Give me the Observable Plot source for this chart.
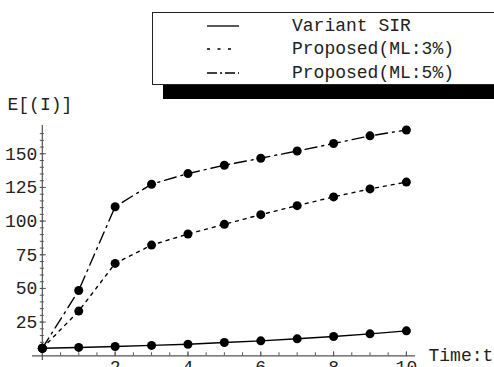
<!DOCTYPE html>
<html>
<head>
<meta charset="utf-8">
<script src="https://cdn.jsdelivr.net/npm/d3@7"></script>
<script src="https://cdn.jsdelivr.net/npm/@observablehq/plot@0.6"></script>
<style>
  html, body { margin: 0; padding: 0; background: #fff; overflow: hidden; }
  #wrap { position: relative; width: 494px; height: 367px; font-family: "Liberation Mono", monospace; }
  #legend { position: absolute; left: 152px; top: 12px; width: 360px; height: 73px; border: 1px solid #222; background: #fff; box-sizing: border-box; }
  #shadow { position: absolute; left: 163px; top: 85px; width: 340px; height: 14px; background: #000; }
  .row { position: absolute; left: 0; height: 20px; }
  .row svg { position: absolute; left: 53px; top: 0; }
  .row span { position: absolute; left: 139px; top: 0; font-size: 18px; line-height: 20px; color: #222; white-space: nowrap; }
</style>
</head>
<body>
<div id="wrap"></div>
<script>
// ---- data ----
const time = [0, 1, 2, 3, 4, 5, 6, 7, 8, 9, 10];
const variantSIR = [5.6, 6.2, 6.9, 7.7, 8.6, 9.9, 11.1, 12.6, 14.3, 16.3, 18.5];
const proposedML3 = [5.6, 33.2, 68.6, 82.2, 90.4, 97.6, 104.8, 111.5, 118.0, 123.9, 129.0];
const proposedML5 = [5.6, 48.5, 110.7, 127.4, 135.3, 141.5, 146.7, 152.1, 157.6, 163.3, 167.7];
const seriesNames = ["Variant SIR", "Proposed(ML:3%)", "Proposed(ML:5%)"];
const seriesDash = [null, "3,5", "12,5,2,5"];
const legendDash = [null, "3,7.5", "10,3,2,3"];
const xTickLabels = [2, 4, 6, 8, 10];
const yTickLabels = [25, 50, 75, 100, 125, 150];
const xMinorTicks = d3.range(0, 10.01, 0.5);
const yMinorTicks = d3.range(5, 170, 5);

const seriesValues = [variantSIR, proposedML3, proposedML5];
const rows = seriesValues.map((vals, s) => time.map((t, i) => ({t, v: vals[i], s: seriesNames[s]})));

const ink = "#222";
const axisColor = "#555";
const font = "Liberation Mono, monospace";

const marks = [
  // axes lines
  Plot.ruleY([0], {stroke: axisColor, strokeWidth: 1.2}),
  Plot.ruleX([0], {stroke: axisColor, strokeWidth: 1.2}),
  // x ticks (pointing up)
  Plot.ruleX(xMinorTicks, {y1: 0, y2: 0, insetTop: -3, stroke: axisColor}),
  Plot.ruleX(xTickLabels, {y1: 0, y2: 0, insetTop: -4, insetBottom: -1, stroke: axisColor}),
  // y ticks
  Plot.ruleY(yMinorTicks, {x1: 0, x2: 0, insetLeft: -2, insetRight: -2, stroke: axisColor}),
  Plot.ruleY(yTickLabels, {x1: 0, x2: 0, insetLeft: -2, insetRight: -4, stroke: axisColor}),
  // tick labels
  Plot.text(xTickLabels, {x: d => d, y: 0, dy: 4, lineAnchor: "top", text: d => String(d), fontSize: 18, fontFamily: font, fill: ink}),
  Plot.text(yTickLabels, {x: 0, y: d => d, dx: -5, textAnchor: "end", text: d => String(d), fontSize: 18, fontFamily: font, fill: ink}),
  // axis labels
  Plot.text(["E[(I)]"], {frameAnchor: "top-left", dx: -25, dy: -21, textAnchor: "start", lineAnchor: "middle", fontSize: 18, fontFamily: font, fill: ink}),
  Plot.text(["Time:t"], {frameAnchor: "bottom-right", dx: 13, dy: -5, textAnchor: "start", lineAnchor: "middle", fontSize: 18, fontFamily: font, fill: ink}),
];
rows.forEach((data, s) => {
  marks.push(Plot.line(data, {x: "t", y: "v", stroke: "#000", strokeWidth: 1.4, strokeDasharray: seriesDash[s]}));
});
rows.forEach((data) => {
  marks.push(Plot.dot(data, {x: "t", y: "v", r: 4.5, fill: "#000", stroke: "none"}));
});

const chart = Plot.plot({
  width: 494,
  height: 367,
  marginLeft: 32,
  marginRight: 79,
  marginTop: 125,
  marginBottom: 7,
  x: {domain: [-0.27, 10.25], axis: null},
  y: {domain: [-3.5, 171], axis: null},
  style: {background: "#fff", overflow: "visible"},
  marks
});

const wrap = document.getElementById("wrap");
wrap.appendChild(chart);

// legend
const shadow = document.createElement("div");
shadow.id = "shadow";
wrap.appendChild(shadow);
const legend = document.createElement("div");
legend.id = "legend";
const rowTops = [3, 26, 50];
seriesNames.forEach((name, s) => {
  const row = document.createElement("div");
  row.className = "row";
  row.style.top = rowTops[s] + "px";
  const dash = legendDash[s] ? ` stroke-dasharray="${legendDash[s]}"` : "";
  const x2 = s === 1 ? 25 : 33;
  row.innerHTML = `<svg width="34" height="20"><line x1="1" y1="10" x2="${x2}" y2="10" stroke="#000" stroke-width="1.3"${dash}/></svg><span>${name}</span>`;
  legend.appendChild(row);
});
wrap.appendChild(legend);
</script>
</body>
</html>
